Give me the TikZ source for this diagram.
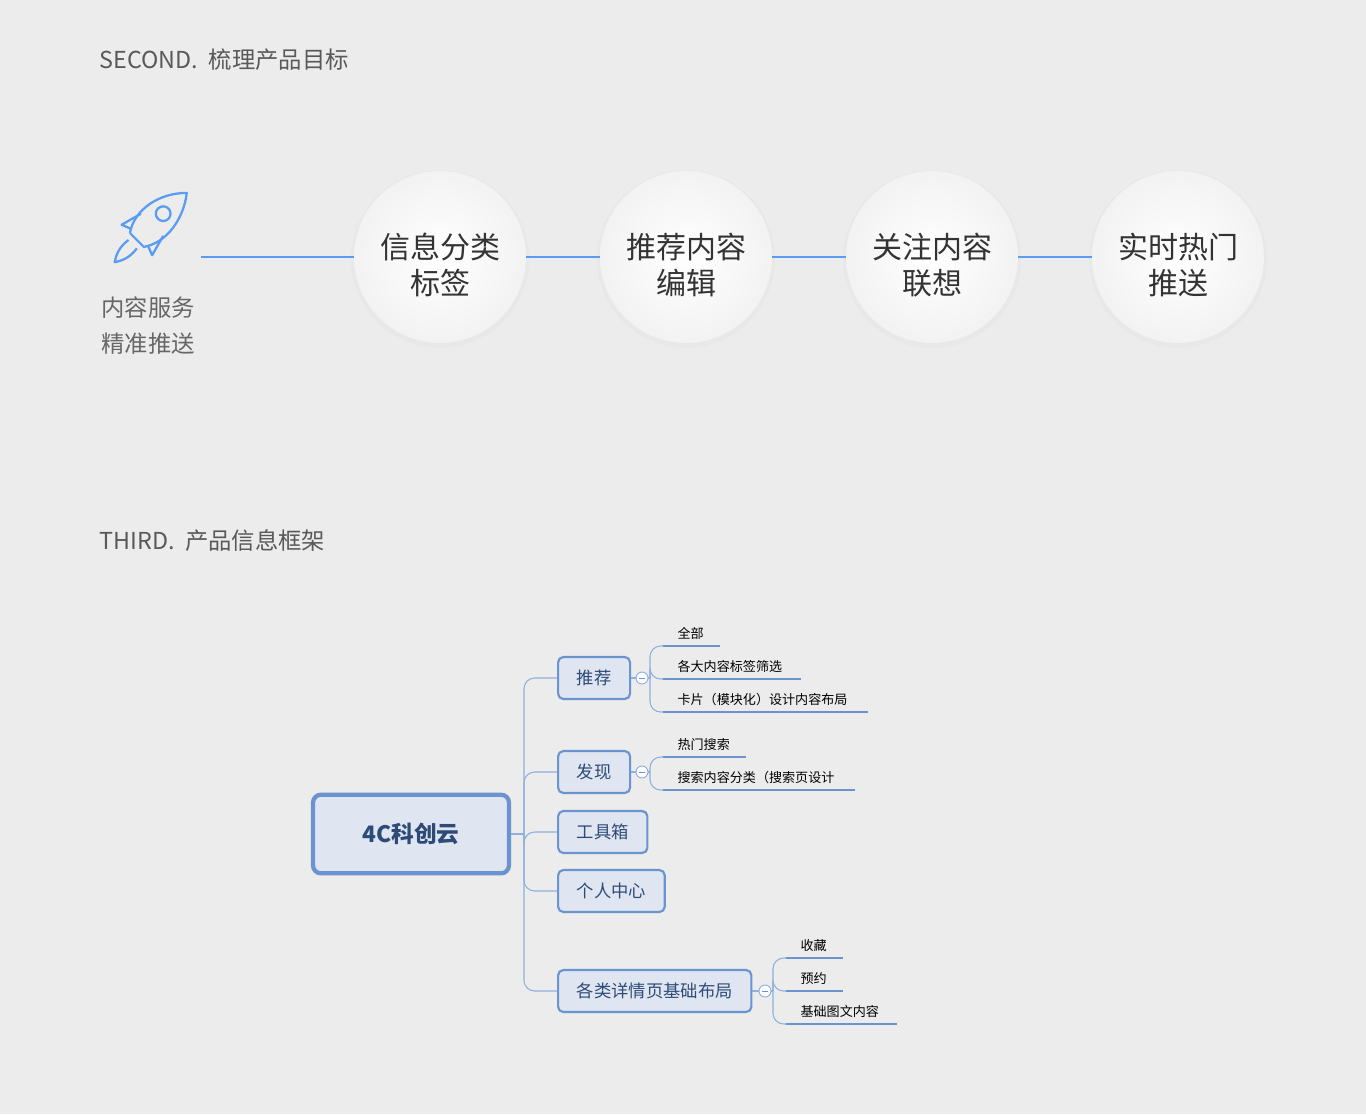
\documentclass[tikz,border=0pt]{standalone}
\usepackage{fontspec}
\setmainfont{Noto Sans CJK SC}
\usetikzlibrary{calc}
\definecolor{bg}{HTML}{ECECEC}
\definecolor{blu}{HTML}{5A9CF2}
\definecolor{mbd}{HTML}{6A93CF}
\definecolor{mfill}{HTML}{DFE6F1}
\definecolor{mtxt}{HTML}{2E4B78}
\definecolor{tcol}{HTML}{8FB0DE}
\begin{document}
\begin{tikzpicture}[x=0.75pt,y=-0.75pt,
  circ/.style={circle,minimum size=129pt,inner sep=0pt,inner color=white,outer color=white!95!black},
  ctext/.style={align=center,font=\fontsize{22.5}{26.5}\selectfont,text=black!80},
  lnk/.style={blu,line width=1.3pt},
  child/.style={draw=mbd,line width=1.6pt,fill=mfill,rounded corners=4pt,text=mtxt,font=\fontsize{13}{15}\selectfont,minimum height=31.5pt,anchor=west,inner xsep=14pt},
  br/.style={draw=tcol,line width=0.8pt,rounded corners=8pt},
  ul/.style={mbd,line width=2pt},
  lt/.style={font=\fontsize{9.8}{11}\selectfont,text=black,anchor=south west,inner sep=1pt},
  tog/.style={circle,draw=tcol,fill=white,line width=0.7pt,minimum size=9pt,inner sep=0pt,path picture={\draw[mbd,line width=0.6pt] ($(path picture bounding box.center)+(-3,0)$)--++(6,0);}}]
\fill[bg] (0,0) rectangle (1366,1114);
\useasboundingbox (0,0) rectangle (1366,1114);
\node[anchor=west,text=black!65,font=\fontsize{17.5}{20}\selectfont] (t1) at (95,60) {SECOND.~~梳理产品目标};
\node[anchor=west,text=black!65,font=\fontsize{17.5}{20}\selectfont] (t2) at (95,541) {THIRD.~~产品信息框架};
% circles
\foreach \n/\x/\t in {c1/440/信息分类\\标签,c2/686/推荐内容\\编辑,c3/932/关注内容\\联想,c4/1178/实时热门\\推送}{
  \fill[black,opacity=0.015] (\x,259) circle (89);
  \node[circ] (\n) at (\x,257) {};
  \node[ctext] (\n t) at (\x,265) {\t};
}
\coordinate (ls) at (201,257);
\draw[lnk] (ls) -- (c1.west);
\draw[lnk] (c1.east) -- (c2.west);
\draw[lnk] (c2.east) -- (c3.west);
\draw[lnk] (c3.east) -- (c4.west);
% rocket
\begin{scope}[shift={(123,240)},scale=0.98,rotate=-45,blu,line width=1.7pt,line join=round]
  \draw (0,-10) .. controls (-14,-30) and (-8,-60) .. (12,-80) -- (13,-80) ;
  \draw (-0,-10) -- (20,-10) .. controls (34,-30) and (28,-60) .. (12,-80);
  \draw (10,-48) circle (7.5);
  \draw (-2,-14) -- (-12,-10) -- (-6,-32);
  \draw (22,-14) -- (32,-10) -- (26,-32);
  \draw (4,-4) .. controls (2,8) and (6,16) .. (10,22) .. controls (14,16) and (18,8) .. (16,-4);
\end{scope}
\node[align=left,text=black!60,font=\fontsize{17.5}{27}\selectfont] (rt) at (148,326) {内容服务\\精准推送};
% mind map
\node[draw=mbd,line width=3.2pt,fill=mfill,rounded corners=6pt,minimum width=147pt,minimum height=59pt,text=mtxt,font=\fontsize{17}{20}\selectfont\bfseries] (root) at (411,834) {4C科创云};
\node[child] (a) at (557,678) {推荐};
\node[child] (b) at (557,772) {发现};
\node[child] (c) at (557,832) {工具箱};
\node[child] (d) at (557,891) {个人中心};
\node[child] (e) at (557,991) {各类详情页基础布局};
\coordinate (tr) at (524,834);
\draw[br] (root.east) -- (tr);
\foreach \k in {a,b,c,d,e}{\draw[br] (tr) |- (\k.west);}
% toggles
\node[tog] (ta) at (642,678) {};
\node[tog] (tb) at (642,772) {};
\node[tog] (te) at (765,991) {};
\draw[br] (a.east)--(ta.west);
\draw[br] (b.east)--(tb.west);
\draw[br] (e.east)--(te.west);
% leaves
\newcommand{\leaf}[6]{% name,jx,y,x1,x2,text
  \coordinate (#1s) at (#4,#3); \coordinate (#1e) at (#5,#3);
  \draw[br] (#2,\yj) |- (#1s);
  \draw[ul] (#1s) -- (#1e);
  \node[lt] (#1t) at ($(#1s)+(13,-5)$) {#6};}
\def\yj{678}
\leaf{a1}{650}{646}{663}{720}{全部}
\leaf{a2}{650}{679}{663}{801}{各大内容标签筛选}
\leaf{a3}{650}{712}{663}{868}{卡片（模块化）设计内容布局}
\draw[br] (ta.east) -- (650,678);
\def\yj{772}
\leaf{b1}{650}{757}{663}{746}{热门搜索}
\leaf{b2}{650}{790}{663}{855}{搜索内容分类（搜索页设计}
\draw[br] (tb.east) -- (650,772);
\def\yj{991}
\leaf{e1}{773}{958}{786}{843}{收藏}
\leaf{e2}{773}{991}{786}{843}{预约}
\leaf{e3}{773}{1024}{786}{897}{基础图文内容}
\draw[br] (te.east) -- (773,991);
\end{tikzpicture}
\end{document}
